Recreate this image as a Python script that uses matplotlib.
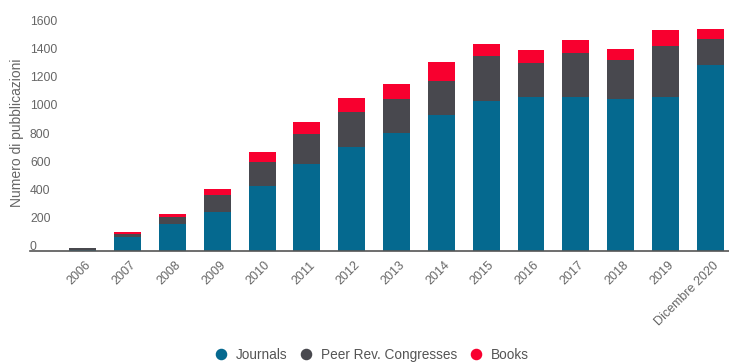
import matplotlib.pyplot as plt
import matplotlib.transforms as mtransforms
from matplotlib.lines import Line2D
import numpy as np

plt.rcParams['font.family'] = ['Liberation Sans', 'DejaVu Sans']

# dati
anni = ['2006', '2007', '2008', '2009', '2010', '2011', '2012', '2013',
        '2014', '2015', '2016', '2017', '2018', '2019', 'Dicembre 2020']
journals = [4, 97, 190, 280, 464, 617, 737, 837, 967, 1069, 1093, 1097, 1081, 1093, 1323]
congressi = [16, 21, 54, 119, 171, 216, 249, 244, 244, 318, 246, 308, 277, 365, 183]
libri = [0, 16, 17, 43, 71, 83, 100, 104, 133, 85, 90, 95, 80, 114, 71]
yticks = [0, 200, 400, 600, 800, 1000, 1200, 1400, 1600]
serie = ['Journals', 'Peer Rev. Congresses', 'Books']

c_blu = '#05698f'
c_grigio = '#48484e'
c_rosso = '#f8002f'
c_testo = '#666666'

W, H = 729, 362
fig = plt.figure(figsize=(W / 100, H / 100), dpi=100)
ax = fig.add_axes([30 / W, 111 / H, (W - 30) / W, 239 / H])

x = np.arange(len(anni))
j = np.array(journals)
c = np.array(congressi)
b = np.array(libri)
ax.bar(x, j, width=0.6, color=c_blu)
ax.bar(x, c, width=0.6, bottom=j, color=c_grigio)
ax.bar(x, b, width=0.6, bottom=j + c, color=c_rosso)

ax.set_xlim(-1.18, 14.42)
ax.set_ylim(0, 1700)

for s in ['left', 'right', 'top']:
    ax.spines[s].set_visible(False)
ax.spines['bottom'].set_color('#555555')
ax.spines['bottom'].set_linewidth(1.2)

ax.set_yticks(yticks)
ax.set_yticklabels([str(v) for v in yticks])
ax.tick_params(axis='y', length=0, pad=0, labelsize=8.7, labelcolor=c_testo)
off_y = mtransforms.ScaledTranslation(0, 5.5 / 100, fig.dpi_scale_trans)
for lab in ax.get_yticklabels():
    lab.set_horizontalalignment('left')
    lab.set_transform(lab.get_transform() + off_y)

ax.set_xticks(x)
ax.set_xticklabels(anni, rotation=45, ha='right', va='top', rotation_mode='anchor')
ax.tick_params(axis='x', length=0, pad=6, labelsize=9, labelcolor=c_testo)
off_x = mtransforms.ScaledTranslation(2 / 100, 0, fig.dpi_scale_trans)
for lab in ax.get_xticklabels():
    lab.set_transform(lab.get_transform() + off_x)

fig.text(17 / W, 1 - 133 / H, 'Numero di pubblicazioni', rotation=90,
         ha='center', va='center', fontsize=10, color=c_testo)

handles = [Line2D([], [], linestyle='none', marker='o', markersize=7.3,
                  markerfacecolor=col, markeredgecolor=col)
           for col in [c_blu, c_grigio, c_rosso]]
leg = fig.legend(handles, serie, loc='center', bbox_to_anchor=(372 / W, 1 - 355 / H),
                 ncol=3, frameon=False, fontsize=9.8, handlelength=0.9,
                 handletextpad=0.65, columnspacing=0.9, borderpad=0)
for t in leg.get_texts():
    t.set_color('#555555')

fig.savefig('out.png', dpi=100)
